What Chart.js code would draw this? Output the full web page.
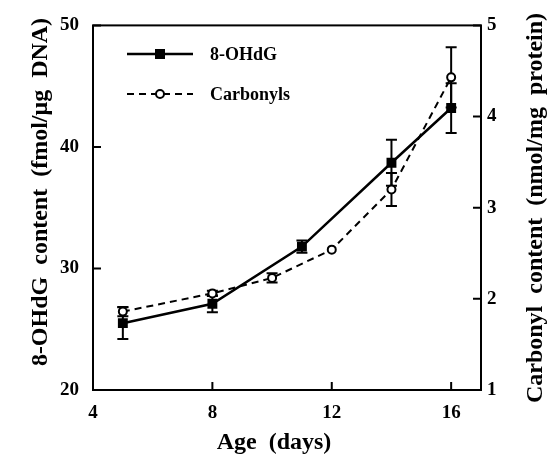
<!DOCTYPE html>
<html lang="en">
<head>
  <meta charset="UTF-8">
  <title>8-OHdG and Carbonyl content vs Age</title>
  <script src="https://cdn.jsdelivr.net/npm/chart.js"></script>
  <style>
    body { margin: 0; background: #fff; }
    #wrap { width: 549px; height: 454px; }
  </style>
</head>
<body>
  <div id="wrap"><canvas id="chartCanvas" width="549" height="454"></canvas></div>

  <script>
    // data
    const ohdgAges = [5, 8, 11, 14, 16];
    const ohdgValues = [25.5, 27.1, 31.8, 38.7, 43.2];
    const ohdgErrors = [1.3, 0.7, 0.5, 1.9, 2.05];

    const carbAges = [5, 8, 10, 12, 14, 16];
    const carbValues = [1.86, 2.06, 2.23, 2.54, 3.2, 4.43];
    const carbErrors = [0.05, 0.03, 0.05, 0, 0.18, 0.33];

    const xTicks = [4, 8, 12, 16];
    const leftTicks = [20, 30, 40, 50];
    const rightTicks = [1, 2, 3, 4, 5];

    const serif = "'Liberation Serif', 'Times New Roman', serif";

    // error bars, frame, inward ticks, legend and axis titles
    const extras = {
      id: 'extras',
      beforeDatasetsDraw(chart) {
        const ctx = chart.ctx;
        const x = chart.scales.x;
        ctx.save();
        ctx.strokeStyle = '#000';
        ctx.lineWidth = 2;
        chart.data.datasets.forEach(ds => {
          const y = chart.scales[ds.yAxisID];
          ds.data.forEach((p, i) => {
            const e = ds.errors[i];
            if (!e) return;
            const px = x.getPixelForValue(p.x);
            const y1 = y.getPixelForValue(p.y - e);
            const y2 = y.getPixelForValue(p.y + e);
            ctx.beginPath();
            ctx.moveTo(px, y1); ctx.lineTo(px, y2);
            ctx.moveTo(px - 5.5, y1); ctx.lineTo(px + 5.5, y1);
            ctx.moveTo(px - 5.5, y2); ctx.lineTo(px + 5.5, y2);
            ctx.stroke();
          });
        });
        ctx.restore();
      },
      afterDraw(chart) {
        const ctx = chart.ctx;
        const a = chart.chartArea;
        const x = chart.scales.x, yl = chart.scales.y, yr = chart.scales.y2;
        ctx.save();
        ctx.strokeStyle = '#000';
        ctx.lineWidth = 2;
        ctx.strokeRect(a.left, a.top, a.right - a.left, a.bottom - a.top);

        // inward tick marks
        const tl = 8;
        ctx.beginPath();
        xTicks.forEach(v => {
          const px = x.getPixelForValue(v);
          ctx.moveTo(px, a.bottom); ctx.lineTo(px, a.bottom - tl);
        });
        leftTicks.forEach(v => {
          const py = yl.getPixelForValue(v);
          ctx.moveTo(a.left, py); ctx.lineTo(a.left + tl, py);
        });
        rightTicks.forEach(v => {
          const py = yr.getPixelForValue(v);
          ctx.moveTo(a.right, py); ctx.lineTo(a.right - tl, py);
        });
        ctx.stroke();

        // legend
        ctx.fillStyle = '#000';
        ctx.font = 'bold 18px ' + serif;
        ctx.textBaseline = 'middle';
        const rows = [{ y: 54, ds: chart.data.datasets[0] }, { y: 94, ds: chart.data.datasets[1] }];
        rows.forEach(r => {
          ctx.lineWidth = r.ds.borderWidth;
          ctx.setLineDash(r.ds.borderDash || []);
          ctx.beginPath();
          ctx.moveTo(127, r.y); ctx.lineTo(193, r.y);
          ctx.stroke();
          ctx.setLineDash([]);
          if (r.ds.pointStyle === 'rect') {
            ctx.fillRect(155, r.y - 5, 10, 10);
          } else {
            ctx.beginPath();
            ctx.arc(160, r.y, 4, 0, Math.PI * 2);
            ctx.fillStyle = '#fff';
            ctx.fill();
            ctx.lineWidth = 2;
            ctx.stroke();
            ctx.fillStyle = '#000';
          }
          ctx.fillText(r.ds.label, 210, r.y + 1);
        });

        // axis titles
        ctx.font = 'bold 24px ' + serif;
        ctx.textAlign = 'center';
        ctx.fillText('Age  (days)', 274, 443);
        ctx.save();
        ctx.translate(41, 192);
        ctx.rotate(-Math.PI / 2);
        ctx.fillText('8-OHdG  content  (fmol/\u03bcg  DNA)', 0, 0);
        ctx.restore();
        ctx.save();
        ctx.translate(536, 208);
        ctx.rotate(-Math.PI / 2);
        ctx.fillText('Carbonyl  content  (nmol/mg  protein)', 0, 0);
        ctx.restore();
        ctx.restore();
      }
    };

    const tickFont = { family: serif, weight: 'bold', size: 19 };

    new Chart(document.getElementById('chartCanvas'), {
      type: 'scatter',
      data: {
        datasets: [
          {
            label: '8-OHdG',
            data: ohdgAges.map((a, i) => ({ x: a, y: ohdgValues[i] })),
            errors: ohdgErrors,
            yAxisID: 'y',
            showLine: true,
            borderColor: '#000',
            backgroundColor: '#000',
            borderWidth: 2.5,
            pointStyle: 'rect',
            pointRadius: 7,
            pointBorderWidth: 0,
            order: 1
          },
          {
            label: 'Carbonyls',
            data: carbAges.map((a, i) => ({ x: a, y: carbValues[i] })),
            errors: carbErrors,
            yAxisID: 'y2',
            showLine: true,
            borderColor: '#000',
            backgroundColor: '#fff',
            borderWidth: 2,
            borderDash: [7, 5],
            pointStyle: 'circle',
            pointRadius: 4,
            pointBorderWidth: 2,
            order: 2
          }
        ]
      },
      options: {
        responsive: false,
        animation: false,
        layout: { padding: { top: 25, left: 0, right: 0, bottom: 0 } },
        plugins: { legend: { display: false }, tooltip: { enabled: false } },
        scales: {
          x: {
            type: 'linear', min: 4, max: 17,
            afterBuildTicks: s => { s.ticks = xTicks.map(v => ({ value: v })); },
            afterFit: s => { s.height = 64; },
            grid: { display: false, drawTicks: false },
            border: { display: false },
            ticks: { color: '#000', font: tickFont, padding: 12, maxRotation: 0 }
          },
          y: {
            position: 'left', min: 20, max: 50,
            afterBuildTicks: s => { s.ticks = leftTicks.map(v => ({ value: v })); },
            afterFit: s => { s.width = 93; },
            grid: { display: false, drawTicks: false },
            border: { display: false },
            ticks: { color: '#000', font: tickFont, padding: 14 }
          },
          y2: {
            position: 'right', min: 1, max: 5,
            afterBuildTicks: s => { s.ticks = rightTicks.map(v => ({ value: v })); },
            afterFit: s => { s.width = 68; },
            grid: { display: false, drawTicks: false },
            border: { display: false },
            ticks: { color: '#000', font: tickFont, padding: 6 }
          }
        }
      },
      plugins: [extras]
    });
  </script>
</body>
</html>
